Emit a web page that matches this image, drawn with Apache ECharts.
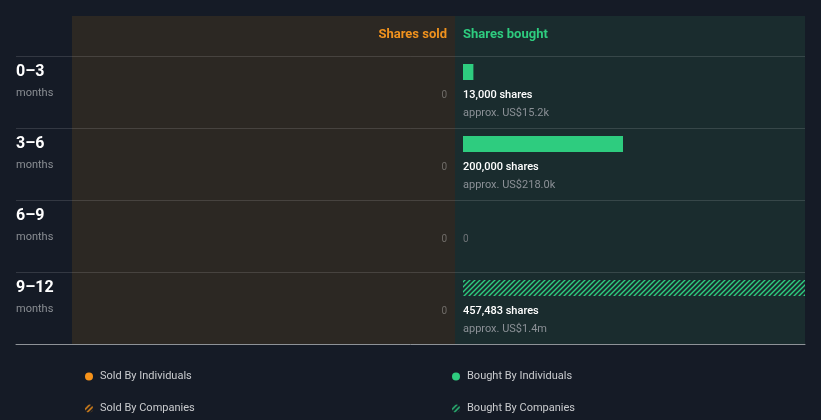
<!DOCTYPE html>
<html>
<head>
<meta charset="utf-8">
<script src="https://cdn.jsdelivr.net/npm/echarts@6/dist/echarts.min.js"></script>
<style>
html,body{margin:0;padding:0;background:#151b26;}
#chart{width:821px;height:420px;}
</style>
</head>
<body>
<div id="chart"></div>
<script>
// ---- data ----
const categories = ['0–3', '3–6', '6–9', '9–12'];
const categoryUnit = 'months';
const soldIndividuals = [0, 0, 0, 0];
const soldCompanies = [0, 0, 0, 0];
const boughtIndividuals = [13000, 200000, 0, 0];
const boughtCompanies = [0, 0, 0, 457483];
const boughtApprox = ['approx. US$15.2k', 'approx. US$218.0k', '', 'approx. US$1.4m'];
const axisMax = 427500;
const seriesNames = ['Sold By Individuals', 'Sold By Companies', 'Bought By Individuals', 'Bought By Companies'];
const headers = ['Shares sold', 'Shares bought'];

// ---- styles ----
const FONT = 'Roboto, "Noto Sans", sans-serif';
const ORANGE = '#f7931a';
const GREEN = '#2ecc7f';

function hatch(color) {
  const c = document.createElement('canvas');
  c.width = 5; c.height = 5;
  const g = c.getContext('2d');
  g.strokeStyle = color;
  g.lineWidth = 1.4;
  g.beginPath();
  g.moveTo(-1, 6); g.lineTo(6, -1);
  g.moveTo(-1, 1); g.lineTo(1, -1);
  g.moveTo(4, 6); g.lineTo(6, 4);
  g.stroke();
  return { image: c, repeat: 'repeat' };
}

const chart = echarts.init(document.getElementById('chart'), null, { renderer: 'canvas' });

const labelRich = {
  s: { color: '#ffffff', fontSize: 11, fontWeight: 500, fontFamily: FONT, lineHeight: 18 },
  a: { color: '#8b9096', fontSize: 11, fontFamily: FONT, lineHeight: 18 },
  z: { color: '#6f7377', fontSize: 10, fontFamily: FONT, lineHeight: 18 }
};

function boughtLabel(v, approx) {
  if (!v) return '{z|0}';
  return '{s|' + v.toLocaleString('en-US') + ' shares}\n{a|' + approx + '}';
}

const option = {
  backgroundColor: '#151b26',
  animation: false,
  graphic: [
    { type: 'rect', z: -10, shape: { x: 72, y: 16, width: 383, height: 328 }, style: { fill: '#2c2823' } },
    { type: 'rect', z: -10, shape: { x: 455, y: 16, width: 350, height: 328 }, style: { fill: '#1a2c2e' } }
  ],
  title: [
    { text: headers[0], right: 374, top: 28, padding: 0,
      textStyle: { color: '#f0921e', fontSize: 13, fontWeight: 'bold', fontFamily: FONT } },
    { text: headers[1], left: 463, top: 28, padding: 0,
      textStyle: { color: GREEN, fontSize: 13, fontWeight: 'bold', fontFamily: FONT } }
  ],
  legend: [
    { left: 80, top: 366, orient: 'vertical', itemWidth: 8, itemHeight: 8, itemGap: 21,
      icon: 'circle', selectedMode: false, data: [seriesNames[0], seriesNames[1]],
      textStyle: { color: '#c9cbce', fontSize: 11, fontFamily: FONT, padding: [0, 0, 0, 2] } },
    { left: 447, top: 366, orient: 'vertical', itemWidth: 8, itemHeight: 8, itemGap: 21,
      icon: 'circle', selectedMode: false, data: [seriesNames[2], seriesNames[3]],
      textStyle: { color: '#c9cbce', fontSize: 11, fontFamily: FONT, padding: [0, 0, 0, 2] } }
  ],
  grid: [
    { left: 16, width: 789, top: 56, height: 288 },
    { left: 72, width: 383, top: 56, height: 288 },
    { left: 463, width: 342, top: 36, height: 288 }
  ],
  xAxis: [
    { gridIndex: 0, type: 'value', min: 0, max: 1, axisLabel: { show: false }, axisTick: { show: false },
      splitLine: { show: false }, axisLine: { show: true, lineStyle: { color: '#8e9297', width: 1 } } },
    { gridIndex: 1, type: 'value', inverse: true, min: 0, max: axisMax, show: false, splitLine: { show: false } },
    { gridIndex: 2, type: 'value', min: 0, max: axisMax, show: false, splitLine: { show: false } }
  ],
  yAxis: [
    { gridIndex: 0, type: 'category', inverse: true, data: categories,
      axisLine: { show: false }, axisTick: { show: false },
      splitLine: { show: true, interval: 0, lineStyle: { color: 'rgba(255,255,255,0.13)', width: 1 } },
      axisLabel: { inside: true, margin: 0, align: 'left', verticalAlign: 'middle', padding: [0, 0, 19, 0],
        formatter: v => '{c|' + v + '}\n{m|' + categoryUnit + '}',
        rich: {
          c: { color: '#ffffff', fontSize: 16, fontWeight: 'bold', fontFamily: FONT, lineHeight: 22 },
          m: { color: '#8a8e93', fontSize: 11, fontFamily: FONT, lineHeight: 22 }
        } } },
    { gridIndex: 1, type: 'category', inverse: true, data: categories, show: false },
    { gridIndex: 2, type: 'category', inverse: true, data: categories, show: false }
  ],
  series: [
    { name: seriesNames[0], type: 'bar', xAxisIndex: 1, yAxisIndex: 1, stack: 'sold', barWidth: 16,
      itemStyle: { color: ORANGE }, data: soldIndividuals,
      label: { show: true, position: 'left', distance: 8, offset: [0, 3], formatter: p => String(p.value),
        color: '#6f6c68', fontSize: 10, fontFamily: FONT } },
    { name: seriesNames[1], type: 'bar', xAxisIndex: 1, yAxisIndex: 1, stack: 'sold', barWidth: 16,
      itemStyle: { color: hatch(ORANGE) }, data: soldCompanies },
    { name: seriesNames[2], type: 'bar', xAxisIndex: 2, yAxisIndex: 2, stack: 'bought', barWidth: 16,
      itemStyle: { color: GREEN },
      data: boughtIndividuals.map((v, i) => ({
        value: v,
        label: { show: v > 0 || boughtCompanies[i] === 0, formatter: boughtLabel(v, boughtApprox[i]) }
      })),
      label: { position: [0, 22], align: 'left', verticalAlign: 'top', rich: labelRich } },
    { name: seriesNames[3], type: 'bar', xAxisIndex: 2, yAxisIndex: 2, stack: 'bought', barWidth: 16,
      itemStyle: { color: hatch(GREEN) },
      data: boughtCompanies.map((v, i) => ({
        value: v,
        label: { show: v > 0, formatter: boughtLabel(v, boughtApprox[i]) }
      })),
      label: { position: [0, 22], align: 'left', verticalAlign: 'top', rich: labelRich } }
  ]
};
chart.setOption(option);
</script>
</body>
</html>
